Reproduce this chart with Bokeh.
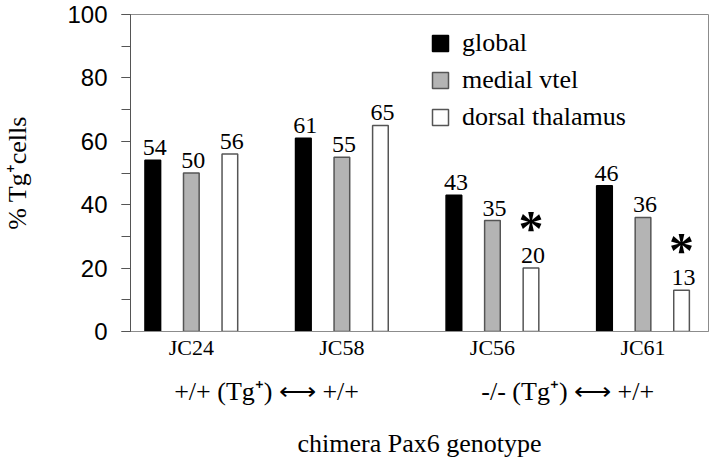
import numpy as np
from bokeh.plotting import figure
from bokeh.models import (Range1d, FixedTicker, SingleIntervalTicker, LinearAxis,
                          Legend, LegendItem, ColumnDataSource)
from bokeh.core.properties import value
from bokeh.embed import file_html
from bokeh.resources import INLINE

# ---- data ----
chimeras = ["JC24", "JC58", "JC56", "JC61"]
genotypes = ["+/+ (Tg\u207a) \u27f7 +/+", "+/+ (Tg\u207a) \u27f7 +/+",
             "-/- (Tg\u207a) \u27f7 +/+", "-/- (Tg\u207a) \u27f7 +/+"]
series_names = ["global", "medial vtel", "dorsal thalamus"]
global_vals = [54, 61, 43, 46]
medial_vals = [50, 55, 35, 36]
dorsal_vals = [56, 65, 20, 13]
dorsal_significant = [False, False, True, True]
y_label = "% Tg\u207acells"
x_label = "chimera Pax6 genotype"

# ---- styles ----
SERIF = "Liberation Serif"
SANS = "Liberation Sans"
fills = ["#000000", "#b4b4b4", "#ffffff"]
edges = ["#000000", "#555555", "#555555"]
offsets = [-0.256, 0.0, 0.256]
bar_w = 0.104

idx = np.arange(len(chimeras))

p = figure(width=712, height=460, x_range=Range1d(-0.404, 3.435), y_range=Range1d(0, 100),
           output_backend="svg", toolbar_location=None,
           min_border_left=116, min_border_right=4, min_border_top=14, min_border_bottom=121)
p.xgrid.visible = False
p.ygrid.visible = False
p.outline_line_color = "#8c8c8c"
p.outline_line_width = 1
p.background_fill_color = "white"

renderers = []
for vals, fc, lc, off in zip([global_vals, medial_vals, dorsal_vals], fills, edges, offsets):
    src = ColumnDataSource(dict(x=idx + off, top=vals, label=[str(v) for v in vals]))
    r = p.vbar(x="x", top="top", bottom=0, width=bar_w, source=src,
               fill_color=fc, line_color=lc, line_width=1.5)
    renderers.append(r)
    p.text(x="x", y="top", text="label", source=src, text_align="center",
           text_baseline="bottom", x_offset=2, y_offset=-5,
           text_font=value(SERIF), text_font_size="24px", text_color="black")

# significance asterisks above dorsal thalamus bars
sig_x = [i + offsets[2] for i, s in zip(idx, dorsal_significant) if s]
sig_y = [v for v, s in zip(dorsal_vals, dorsal_significant) if s]
p.text(x=sig_x, y=sig_y, text=["*"] * len(sig_x), text_align="center",
       text_baseline="middle", y_offset=-40, text_font=value(SERIF),
       text_font_style="bold", text_font_size="50px", text_color="black")

legend = Legend(items=[LegendItem(label=n, renderers=[r]) for n, r in zip(series_names, renderers)],
                location=(300, 199), border_line_color=None, background_fill_alpha=0,
                padding=0, margin=0, spacing=7, glyph_width=20, glyph_height=20,
                label_standoff=12, label_height=30,
                label_text_font=SERIF, label_text_font_size="26px", label_text_color="black")
p.add_layout(legend)

# y axis
ya = p.yaxis[0]
ya.ticker = SingleIntervalTicker(interval=20, num_minor_ticks=2)
ya.major_tick_out = 9
ya.major_tick_in = 0
ya.minor_tick_out = 9
ya.minor_tick_in = 0
ya.axis_line_color = "#555555"
ya.major_tick_line_color = "#555555"
ya.minor_tick_line_color = "#555555"
ya.major_label_text_font = SANS
ya.major_label_text_font_size = "24px"
ya.major_label_text_color = "black"
ya.major_label_standoff = 14
ya.axis_label = y_label
ya.axis_label_text_font = SERIF
ya.axis_label_text_font_size = "26px"
ya.axis_label_text_font_style = "normal"
ya.axis_label_text_color = "black"
ya.axis_label_standoff = 32

# x axis: chimera names
xa = p.xaxis[0]
xa.ticker = FixedTicker(ticks=[int(i) for i in idx])
xa.major_label_overrides = {int(i): c for i, c in zip(idx, chimeras)}
xa.major_tick_out = 0
xa.major_tick_in = 0
xa.minor_tick_line_color = None
xa.major_tick_line_color = None
xa.axis_line_color = "#8c8c8c"
xa.major_label_text_font = SERIF
xa.major_label_text_font_size = "22px"
xa.major_label_text_color = "black"
xa.major_label_standoff = 3

# second x axis: genotype groups
uniq = list(dict.fromkeys(genotypes))
g_pos = [float(np.mean([i for i, g in zip(idx, genotypes) if g == u])) for u in uniq]
xa2 = LinearAxis(ticker=FixedTicker(ticks=g_pos),
                 major_label_overrides={gp: u for gp, u in zip(g_pos, uniq)},
                 axis_line_color=None, major_tick_line_color=None, minor_tick_line_color=None,
                 major_tick_out=0, major_tick_in=0,
                 major_label_text_font=SERIF, major_label_text_font_size="26px",
                 major_label_text_color="black", major_label_standoff=14,
                 axis_label=x_label, axis_label_text_font=SERIF,
                 axis_label_text_font_size="26px", axis_label_text_font_style="normal",
                 axis_label_text_color="black", axis_label_standoff=20)
p.add_layout(xa2, "below")

open("out.html", "w").write(file_html(p, INLINE))
